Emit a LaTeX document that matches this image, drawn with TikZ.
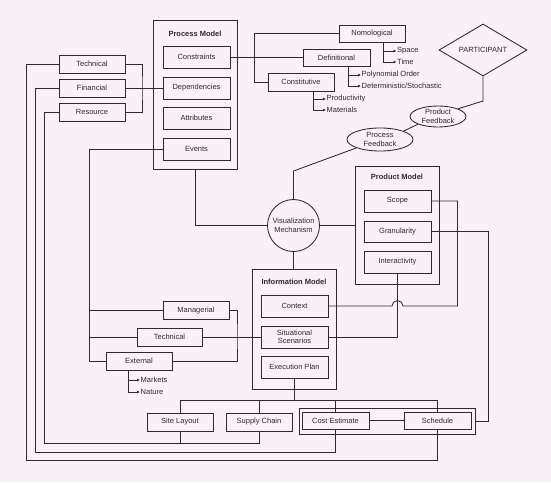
\documentclass[tikz,border=0pt]{standalone}
\usepackage{fontspec}
\setmainfont{Liberation Sans}
\usetikzlibrary{shapes.geometric,arrows.meta,calc}
\definecolor{bg}{RGB}{249,240,248}
\definecolor{ink}{RGB}{45,42,50}
\tikzset{
  bx/.style={draw=ink, line width=0.85pt, inner sep=1pt, minimum width=67pt, minimum height=22pt, align=center, text=ink, font=\fontsize{7.5}{8.6}\selectfont},
  sbx/.style={bx, minimum width=66pt, minimum height=18pt},
  frame/.style={draw=ink, line width=0.85pt, inner sep=0pt},
  ttl/.style={text=ink, inner sep=0pt, font=\fontsize{7.5}{9}\selectfont\bfseries},
  leaf/.style={anchor=west, inner sep=0.5pt, text=ink, font=\fontsize{7.5}{9}\selectfont},
  ln/.style={draw=ink, line width=0.85pt},
  arr/.style={ln, -{Latex[length=3pt,width=3pt]}},
  ell/.style={ellipse, draw=ink, line width=0.85pt, inner sep=0pt, align=center, text=ink, font=\fontsize{7.5}{8.6}\selectfont},
}
\begin{document}
\begin{tikzpicture}[x=1pt,y=-1pt]
\fill[bg] (0,0) rectangle (551,482);
\useasboundingbox (0,0) rectangle (551,482);

% Process model
\node[frame, minimum width=84pt, minimum height=149pt] (pm) at (195,94.5) {};
\node[ttl] (pmt) at (195,34) {Process Model};
\node[bx] (cons) at (196.5,57) {Constraints};
\node[bx] (dep) at (196.5,88) {Dependencies};
\node[bx] (att) at (196.5,118) {Attributes};
\node[bx] (ev) at (196.5,149) {Events};

% left resource boxes
\node[sbx] (tech1) at (92,64) {Technical};
\node[sbx] (fin) at (92,88) {Financial};
\node[sbx] (res) at (92,112) {Resource};

% constraint types
\node[sbx, minimum height=17pt] (nomo) at (372,33.5) {Nomological};
\node[sbx, minimum width=67pt, minimum height=17pt] (defi) at (336.5,57.5) {Definitional};
\node[sbx] (consti) at (301,82) {Constitutive};
\node[leaf] (space) at (396.5,51) {Space};
\node[leaf] (time) at (396.5,62) {Time};
\node[leaf] (poly) at (361,75) {Polynomial Order};
\node[leaf] (det) at (361,86) {Deterministic/Stochastic};
\node[leaf] (prodv) at (326,99) {Productivity};
\node[leaf] (mat) at (326,110) {Materials};

% participant and feedback
\node[diamond, aspect=1.7, draw=ink, line width=0.85pt, inner sep=0pt, minimum width=88pt, minimum height=52pt, text=ink, font=\fontsize{7.5}{9}\selectfont] (part) at (483,50) {PARTICIPANT};
\node[ell, minimum width=56pt, minimum height=21pt] (prodfb) at (438,116.5) {Product\\Feedback};
\node[ell, minimum width=66pt, minimum height=23pt] (procfb) at (380,139.5) {Process\\Feedback};

% visualization
\node[circle, draw=ink, line width=0.85pt, inner sep=0pt, minimum size=52pt, align=center, text=ink, font=\fontsize{7.5}{8.6}\selectfont] (vis) at (293.5,225.5) {Visualization\\Mechanism};

% product model
\node[frame, minimum width=84pt, minimum height=118pt] (prm) at (397,225) {};
\node[ttl] (prmt) at (397,177) {Product Model};
\node[bx] (scope) at (397.5,201) {Scope};
\node[bx, minimum height=21pt] (gran) at (397.5,231.5) {Granularity};
\node[bx] (inter) at (397.5,262) {Interactivity};

% information model
\node[frame, minimum width=84pt, minimum height=120pt] (im) at (294,329) {};
\node[ttl] (imt) at (294,282) {Information Model};
\node[bx] (ctx) at (294.5,306) {Context};
\node[bx] (sit) at (294.5,337) {Situational\\Scenarios};
\node[bx] (exe) at (294.5,367) {Execution Plan};

% context boxes
\node[sbx] (man) at (196,310.5) {Managerial};
\node[sbx, minimum width=65pt] (tech2) at (169.5,337) {Technical};
\node[sbx] (ext) at (139,361) {External};
\node[leaf] (mkt) at (140,380) {Markets};
\node[leaf] (nat) at (140,392) {Nature};

% bottom outputs
\node[sbx] (site) at (180,422) {Site Layout};
\node[sbx] (sup) at (259,422) {Supply Chain};
\node[frame, minimum width=176pt, minimum height=26pt] (grp) at (387,421) {};
\node[sbx, minimum width=67pt, minimum height=17pt] (cost) at (335.5,420.5) {Cost Estimate};
\node[sbx, minimum width=67pt, minimum height=17pt] (sched) at (437.5,420.5) {Schedule};

% helper coordinates
\coordinate (cb) at (254,57);
\coordinate (lb) at (142,88);
\coordinate (t1) at (26,460);
\coordinate (f1) at (35,452);
\coordinate (r1) at (44,443);
\coordinate (e1) at (89,361);
\coordinate (m1) at (237,337);
\coordinate (bus) at (294,400);
\coordinate (g1) at (488,421);
\coordinate (s1) at (457.5,306);
\coordinate (pk) at (483,101);
\coordinate (vk) at (293.5,171);

% process model links
\draw[ln] (pm.south) |- (vis.west);
\draw[ln] (cons.east) -- (cons.east -| defi.west);
\draw[ln] (nomo.west) -- (nomo.west -| cb) -- (consti.west -| cb) -- (consti.west);
\draw[arr] ([xshift=11pt]nomo.south) |- (space.west);
\draw[arr] ([xshift=11pt]nomo.south) |- (time.west);
\draw[arr] ([xshift=11.5pt]defi.south) |- (poly.west);
\draw[arr] ([xshift=11.5pt]defi.south) |- (det.west);
\draw[arr] ([xshift=12pt]consti.south) |- (prodv.west);
\draw[arr] ([xshift=12pt]consti.south) |- (mat.west);

% resources
\draw[ln] (tech1.east) -| (lb) |- (res.east);
\draw[ln] (fin.east) -- (dep.west);
\draw[ln] (tech1.west) -| (t1) -| (sched.south);
\draw[ln] (fin.west) -| (f1) -| (cost.south);
\draw[ln] (res.west) -| (r1) -| (sup.south);
\draw[ln] (site.south) -- (site.south |- r1);

% events branch
\draw[ln] (ev.west) -| (e1) -- (ext.west);
\draw[ln] (man.west) -- (man.west -| e1);
\draw[ln] (tech2.west) -- (tech2.west -| e1);
\draw[ln] (man.east) -| (m1) |- (ext.east);
\draw[ln] (tech2.east) -- (sit.west);
\draw[arr] ([xshift=-11pt]ext.south) |- (mkt.west);
\draw[arr] ([xshift=-11pt]ext.south) |- (nat.west);

% feedback chain
\draw[ln] (part.south) -- (pk) -- (prodfb.north east);
\draw[ln] (prodfb.south west) -- (procfb.north east);
\draw[ln] (procfb.south west) -- (vk) -- (vis.north);
\draw[ln] (vis.east) -- (vis.east -| prm.west);
\draw[ln] (vis.south) -- (vis.south |- im.north);

% product model links
\draw[ln] (scope.east) -| (s1) -- (403,306) arc[start angle=0, end angle=180, radius=5.5pt] -- (ctx.east);
\draw[ln] (inter.south) |- (sit.east);
\draw[ln] (gran.east) -| (g1) -- (grp.east);

% bus
\draw[ln] (exe.south) -- (exe.south |- bus);
\draw[ln] (site.north) -- (site.north |- bus) -- (sched.north |- bus) -- (sched.north);
\draw[ln] (sup.north) -- (sup.north |- bus);
\draw[ln] (cost.north) -- (cost.north |- bus);
\draw[ln] (cost.east) -- (sched.west);
\end{tikzpicture}
\end{document}
